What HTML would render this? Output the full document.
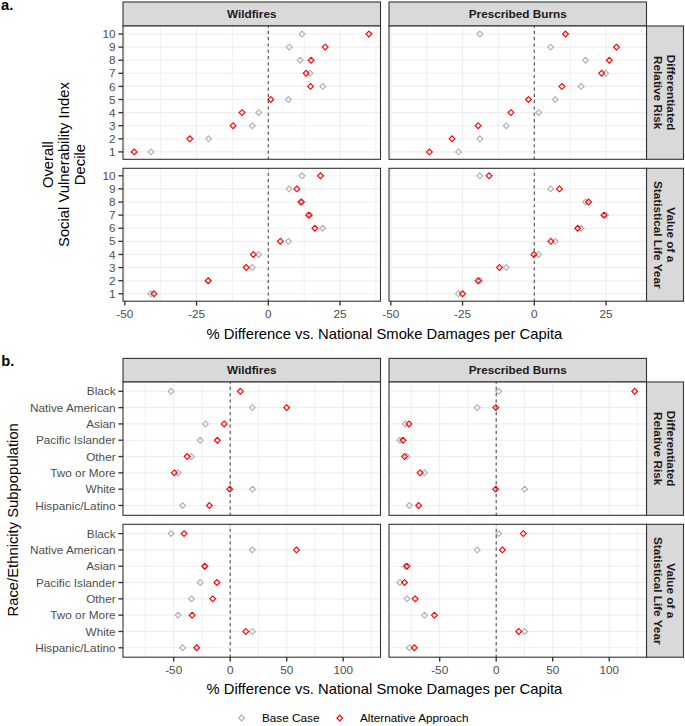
<!DOCTYPE html>
<html><head><meta charset="utf-8"><style>
html,body{margin:0;padding:0;background:#fff;}
svg{display:block;font-family:"Liberation Sans", sans-serif;}
</style></head><body>
<svg width="685" height="726" viewBox="0 0 685 726">
<rect width="685" height="726" fill="#fff"/>
<text x="1.00" y="9.90" font-size="14.7" text-anchor="start" font-weight="bold" fill="#000">a.</text>
<rect x="123.0" y="2.0" width="257.5" height="24.0" fill="#D9D9D9" stroke="#333333" stroke-width="1.1"/>
<text x="251.75" y="18.00" font-size="11.76" text-anchor="middle" font-weight="bold" fill="#1A1A1A">Wildfires</text>
<rect x="389.0" y="2.0" width="257.5" height="24.0" fill="#D9D9D9" stroke="#333333" stroke-width="1.1"/>
<text x="517.75" y="18.00" font-size="11.76" text-anchor="middle" font-weight="bold" fill="#1A1A1A">Prescribed Burns</text>
<rect x="646.5" y="26.0" width="37.0" height="133.3" fill="#D9D9D9" stroke="#333333" stroke-width="1.1"/>
<text x="667.20" y="92.65" font-size="11.76" text-anchor="middle" font-weight="bold" fill="#1A1A1A" transform="rotate(90 667.20 92.65)">Differentiated</text>
<text x="654.30" y="92.65" font-size="11.76" text-anchor="middle" font-weight="bold" fill="#1A1A1A" transform="rotate(90 654.30 92.65)">Relative Risk</text>
<rect x="123.0" y="26.0" width="257.5" height="133.3" fill="#FFFFFF"/>
<line x1="160.68" y1="26.0" x2="160.68" y2="159.3" stroke="#EEEEEE" stroke-width="0.9"/>
<line x1="232.43" y1="26.0" x2="232.43" y2="159.3" stroke="#EEEEEE" stroke-width="0.9"/>
<line x1="304.18" y1="26.0" x2="304.18" y2="159.3" stroke="#EEEEEE" stroke-width="0.9"/>
<line x1="375.93" y1="26.0" x2="375.93" y2="159.3" stroke="#EEEEEE" stroke-width="0.9"/>
<line x1="124.80" y1="26.0" x2="124.80" y2="159.3" stroke="#EEEEEE" stroke-width="1.1"/>
<line x1="196.55" y1="26.0" x2="196.55" y2="159.3" stroke="#EEEEEE" stroke-width="1.1"/>
<line x1="268.30" y1="26.0" x2="268.30" y2="159.3" stroke="#EEEEEE" stroke-width="1.1"/>
<line x1="340.05" y1="26.0" x2="340.05" y2="159.3" stroke="#EEEEEE" stroke-width="1.1"/>
<line x1="123.0" y1="34.00" x2="380.5" y2="34.00" stroke="#EEEEEE" stroke-width="1.1"/>
<line x1="123.0" y1="47.10" x2="380.5" y2="47.10" stroke="#EEEEEE" stroke-width="1.1"/>
<line x1="123.0" y1="60.20" x2="380.5" y2="60.20" stroke="#EEEEEE" stroke-width="1.1"/>
<line x1="123.0" y1="73.30" x2="380.5" y2="73.30" stroke="#EEEEEE" stroke-width="1.1"/>
<line x1="123.0" y1="86.40" x2="380.5" y2="86.40" stroke="#EEEEEE" stroke-width="1.1"/>
<line x1="123.0" y1="99.50" x2="380.5" y2="99.50" stroke="#EEEEEE" stroke-width="1.1"/>
<line x1="123.0" y1="112.60" x2="380.5" y2="112.60" stroke="#EEEEEE" stroke-width="1.1"/>
<line x1="123.0" y1="125.70" x2="380.5" y2="125.70" stroke="#EEEEEE" stroke-width="1.1"/>
<line x1="123.0" y1="138.80" x2="380.5" y2="138.80" stroke="#EEEEEE" stroke-width="1.1"/>
<line x1="123.0" y1="151.90" x2="380.5" y2="151.90" stroke="#EEEEEE" stroke-width="1.1"/>
<line x1="268.30" y1="159.3" x2="268.30" y2="26.0" stroke="#4D4D4D" stroke-width="1.1" stroke-dasharray="3.15 3.15" stroke-dashoffset="0.65"/>
<path d="M302.00 31.10L304.90 34.00L302.00 36.90L299.10 34.00Z" fill="none" stroke="#B0B0B0" stroke-width="1.15" stroke-linejoin="miter"/>
<path d="M289.10 44.20L292.00 47.10L289.10 50.00L286.20 47.10Z" fill="none" stroke="#B0B0B0" stroke-width="1.15" stroke-linejoin="miter"/>
<path d="M300.30 57.30L303.20 60.20L300.30 63.10L297.40 60.20Z" fill="none" stroke="#B0B0B0" stroke-width="1.15" stroke-linejoin="miter"/>
<path d="M310.10 70.40L313.00 73.30L310.10 76.20L307.20 73.30Z" fill="none" stroke="#B0B0B0" stroke-width="1.15" stroke-linejoin="miter"/>
<path d="M322.70 83.50L325.60 86.40L322.70 89.30L319.80 86.40Z" fill="none" stroke="#B0B0B0" stroke-width="1.15" stroke-linejoin="miter"/>
<path d="M288.40 96.60L291.30 99.50L288.40 102.40L285.50 99.50Z" fill="none" stroke="#B0B0B0" stroke-width="1.15" stroke-linejoin="miter"/>
<path d="M258.70 109.70L261.60 112.60L258.70 115.50L255.80 112.60Z" fill="none" stroke="#B0B0B0" stroke-width="1.15" stroke-linejoin="miter"/>
<path d="M252.30 122.80L255.20 125.70L252.30 128.60L249.40 125.70Z" fill="none" stroke="#B0B0B0" stroke-width="1.15" stroke-linejoin="miter"/>
<path d="M208.60 135.90L211.50 138.80L208.60 141.70L205.70 138.80Z" fill="none" stroke="#B0B0B0" stroke-width="1.15" stroke-linejoin="miter"/>
<path d="M151.00 149.00L153.90 151.90L151.00 154.80L148.10 151.90Z" fill="none" stroke="#B0B0B0" stroke-width="1.15" stroke-linejoin="miter"/>
<path d="M368.90 31.10L371.80 34.00L368.90 36.90L366.00 34.00Z" fill="none" stroke="#FF0000" stroke-width="1.15" stroke-linejoin="miter"/>
<path d="M325.20 44.20L328.10 47.10L325.20 50.00L322.30 47.10Z" fill="none" stroke="#FF0000" stroke-width="1.15" stroke-linejoin="miter"/>
<path d="M311.10 57.30L314.00 60.20L311.10 63.10L308.20 60.20Z" fill="none" stroke="#FF0000" stroke-width="1.15" stroke-linejoin="miter"/>
<path d="M306.10 70.40L309.00 73.30L306.10 76.20L303.20 73.30Z" fill="none" stroke="#FF0000" stroke-width="1.15" stroke-linejoin="miter"/>
<path d="M310.50 83.50L313.40 86.40L310.50 89.30L307.60 86.40Z" fill="none" stroke="#FF0000" stroke-width="1.15" stroke-linejoin="miter"/>
<path d="M270.80 96.60L273.70 99.50L270.80 102.40L267.90 99.50Z" fill="none" stroke="#FF0000" stroke-width="1.15" stroke-linejoin="miter"/>
<path d="M242.00 109.70L244.90 112.60L242.00 115.50L239.10 112.60Z" fill="none" stroke="#FF0000" stroke-width="1.15" stroke-linejoin="miter"/>
<path d="M233.10 122.80L236.00 125.70L233.10 128.60L230.20 125.70Z" fill="none" stroke="#FF0000" stroke-width="1.15" stroke-linejoin="miter"/>
<path d="M189.80 135.90L192.70 138.80L189.80 141.70L186.90 138.80Z" fill="none" stroke="#FF0000" stroke-width="1.15" stroke-linejoin="miter"/>
<path d="M134.10 149.00L137.00 151.90L134.10 154.80L131.20 151.90Z" fill="none" stroke="#FF0000" stroke-width="1.15" stroke-linejoin="miter"/>
<rect x="123.0" y="26.0" width="257.5" height="133.3" fill="none" stroke="#333333" stroke-width="1.1"/>
<rect x="389.0" y="26.0" width="257.5" height="133.3" fill="#FFFFFF"/>
<line x1="426.68" y1="26.0" x2="426.68" y2="159.3" stroke="#EEEEEE" stroke-width="0.9"/>
<line x1="498.43" y1="26.0" x2="498.43" y2="159.3" stroke="#EEEEEE" stroke-width="0.9"/>
<line x1="570.17" y1="26.0" x2="570.17" y2="159.3" stroke="#EEEEEE" stroke-width="0.9"/>
<line x1="641.92" y1="26.0" x2="641.92" y2="159.3" stroke="#EEEEEE" stroke-width="0.9"/>
<line x1="390.80" y1="26.0" x2="390.80" y2="159.3" stroke="#EEEEEE" stroke-width="1.1"/>
<line x1="462.55" y1="26.0" x2="462.55" y2="159.3" stroke="#EEEEEE" stroke-width="1.1"/>
<line x1="534.30" y1="26.0" x2="534.30" y2="159.3" stroke="#EEEEEE" stroke-width="1.1"/>
<line x1="606.05" y1="26.0" x2="606.05" y2="159.3" stroke="#EEEEEE" stroke-width="1.1"/>
<line x1="389.0" y1="34.00" x2="646.5" y2="34.00" stroke="#EEEEEE" stroke-width="1.1"/>
<line x1="389.0" y1="47.10" x2="646.5" y2="47.10" stroke="#EEEEEE" stroke-width="1.1"/>
<line x1="389.0" y1="60.20" x2="646.5" y2="60.20" stroke="#EEEEEE" stroke-width="1.1"/>
<line x1="389.0" y1="73.30" x2="646.5" y2="73.30" stroke="#EEEEEE" stroke-width="1.1"/>
<line x1="389.0" y1="86.40" x2="646.5" y2="86.40" stroke="#EEEEEE" stroke-width="1.1"/>
<line x1="389.0" y1="99.50" x2="646.5" y2="99.50" stroke="#EEEEEE" stroke-width="1.1"/>
<line x1="389.0" y1="112.60" x2="646.5" y2="112.60" stroke="#EEEEEE" stroke-width="1.1"/>
<line x1="389.0" y1="125.70" x2="646.5" y2="125.70" stroke="#EEEEEE" stroke-width="1.1"/>
<line x1="389.0" y1="138.80" x2="646.5" y2="138.80" stroke="#EEEEEE" stroke-width="1.1"/>
<line x1="389.0" y1="151.90" x2="646.5" y2="151.90" stroke="#EEEEEE" stroke-width="1.1"/>
<line x1="534.30" y1="159.3" x2="534.30" y2="26.0" stroke="#4D4D4D" stroke-width="1.1" stroke-dasharray="3.15 3.15" stroke-dashoffset="0.65"/>
<path d="M479.90 31.10L482.80 34.00L479.90 36.90L477.00 34.00Z" fill="none" stroke="#B0B0B0" stroke-width="1.15" stroke-linejoin="miter"/>
<path d="M550.70 44.20L553.60 47.10L550.70 50.00L547.80 47.10Z" fill="none" stroke="#B0B0B0" stroke-width="1.15" stroke-linejoin="miter"/>
<path d="M585.60 57.30L588.50 60.20L585.60 63.10L582.70 60.20Z" fill="none" stroke="#B0B0B0" stroke-width="1.15" stroke-linejoin="miter"/>
<path d="M605.60 70.40L608.50 73.30L605.60 76.20L602.70 73.30Z" fill="none" stroke="#B0B0B0" stroke-width="1.15" stroke-linejoin="miter"/>
<path d="M581.10 83.50L584.00 86.40L581.10 89.30L578.20 86.40Z" fill="none" stroke="#B0B0B0" stroke-width="1.15" stroke-linejoin="miter"/>
<path d="M555.30 96.60L558.20 99.50L555.30 102.40L552.40 99.50Z" fill="none" stroke="#B0B0B0" stroke-width="1.15" stroke-linejoin="miter"/>
<path d="M538.70 109.70L541.60 112.60L538.70 115.50L535.80 112.60Z" fill="none" stroke="#B0B0B0" stroke-width="1.15" stroke-linejoin="miter"/>
<path d="M506.30 122.80L509.20 125.70L506.30 128.60L503.40 125.70Z" fill="none" stroke="#B0B0B0" stroke-width="1.15" stroke-linejoin="miter"/>
<path d="M479.90 135.90L482.80 138.80L479.90 141.70L477.00 138.80Z" fill="none" stroke="#B0B0B0" stroke-width="1.15" stroke-linejoin="miter"/>
<path d="M458.50 149.00L461.40 151.90L458.50 154.80L455.60 151.90Z" fill="none" stroke="#B0B0B0" stroke-width="1.15" stroke-linejoin="miter"/>
<path d="M565.50 31.10L568.40 34.00L565.50 36.90L562.60 34.00Z" fill="none" stroke="#FF0000" stroke-width="1.15" stroke-linejoin="miter"/>
<path d="M616.40 44.20L619.30 47.10L616.40 50.00L613.50 47.10Z" fill="none" stroke="#FF0000" stroke-width="1.15" stroke-linejoin="miter"/>
<path d="M609.30 57.30L612.20 60.20L609.30 63.10L606.40 60.20Z" fill="none" stroke="#FF0000" stroke-width="1.15" stroke-linejoin="miter"/>
<path d="M601.60 70.40L604.50 73.30L601.60 76.20L598.70 73.30Z" fill="none" stroke="#FF0000" stroke-width="1.15" stroke-linejoin="miter"/>
<path d="M561.90 83.50L564.80 86.40L561.90 89.30L559.00 86.40Z" fill="none" stroke="#FF0000" stroke-width="1.15" stroke-linejoin="miter"/>
<path d="M528.50 96.60L531.40 99.50L528.50 102.40L525.60 99.50Z" fill="none" stroke="#FF0000" stroke-width="1.15" stroke-linejoin="miter"/>
<path d="M510.90 109.70L513.80 112.60L510.90 115.50L508.00 112.60Z" fill="none" stroke="#FF0000" stroke-width="1.15" stroke-linejoin="miter"/>
<path d="M478.10 122.80L481.00 125.70L478.10 128.60L475.20 125.70Z" fill="none" stroke="#FF0000" stroke-width="1.15" stroke-linejoin="miter"/>
<path d="M452.10 135.90L455.00 138.80L452.10 141.70L449.20 138.80Z" fill="none" stroke="#FF0000" stroke-width="1.15" stroke-linejoin="miter"/>
<path d="M429.40 149.00L432.30 151.90L429.40 154.80L426.50 151.90Z" fill="none" stroke="#FF0000" stroke-width="1.15" stroke-linejoin="miter"/>
<rect x="389.0" y="26.0" width="257.5" height="133.3" fill="none" stroke="#333333" stroke-width="1.1"/>
<line x1="118.4" y1="34.00" x2="123" y2="34.00" stroke="#333333" stroke-width="1.35"/>
<text x="115.60" y="38.10" font-size="11.76" text-anchor="end" font-weight="normal" fill="#4D4D4D">10</text>
<line x1="118.4" y1="47.10" x2="123" y2="47.10" stroke="#333333" stroke-width="1.35"/>
<text x="115.60" y="51.20" font-size="11.76" text-anchor="end" font-weight="normal" fill="#4D4D4D">9</text>
<line x1="118.4" y1="60.20" x2="123" y2="60.20" stroke="#333333" stroke-width="1.35"/>
<text x="115.60" y="64.30" font-size="11.76" text-anchor="end" font-weight="normal" fill="#4D4D4D">8</text>
<line x1="118.4" y1="73.30" x2="123" y2="73.30" stroke="#333333" stroke-width="1.35"/>
<text x="115.60" y="77.40" font-size="11.76" text-anchor="end" font-weight="normal" fill="#4D4D4D">7</text>
<line x1="118.4" y1="86.40" x2="123" y2="86.40" stroke="#333333" stroke-width="1.35"/>
<text x="115.60" y="90.50" font-size="11.76" text-anchor="end" font-weight="normal" fill="#4D4D4D">6</text>
<line x1="118.4" y1="99.50" x2="123" y2="99.50" stroke="#333333" stroke-width="1.35"/>
<text x="115.60" y="103.60" font-size="11.76" text-anchor="end" font-weight="normal" fill="#4D4D4D">5</text>
<line x1="118.4" y1="112.60" x2="123" y2="112.60" stroke="#333333" stroke-width="1.35"/>
<text x="115.60" y="116.70" font-size="11.76" text-anchor="end" font-weight="normal" fill="#4D4D4D">4</text>
<line x1="118.4" y1="125.70" x2="123" y2="125.70" stroke="#333333" stroke-width="1.35"/>
<text x="115.60" y="129.80" font-size="11.76" text-anchor="end" font-weight="normal" fill="#4D4D4D">3</text>
<line x1="118.4" y1="138.80" x2="123" y2="138.80" stroke="#333333" stroke-width="1.35"/>
<text x="115.60" y="142.90" font-size="11.76" text-anchor="end" font-weight="normal" fill="#4D4D4D">2</text>
<line x1="118.4" y1="151.90" x2="123" y2="151.90" stroke="#333333" stroke-width="1.35"/>
<text x="115.60" y="156.00" font-size="11.76" text-anchor="end" font-weight="normal" fill="#4D4D4D">1</text>
<rect x="646.5" y="168.3" width="37.0" height="132.89999999999998" fill="#D9D9D9" stroke="#333333" stroke-width="1.1"/>
<text x="667.20" y="234.75" font-size="11.76" text-anchor="middle" font-weight="bold" fill="#1A1A1A" transform="rotate(90 667.20 234.75)">Value of a</text>
<text x="654.30" y="234.75" font-size="11.76" text-anchor="middle" font-weight="bold" fill="#1A1A1A" transform="rotate(90 654.30 234.75)">Statistical Life Year</text>
<rect x="123.0" y="168.3" width="257.5" height="132.89999999999998" fill="#FFFFFF"/>
<line x1="160.68" y1="168.3" x2="160.68" y2="301.2" stroke="#EEEEEE" stroke-width="0.9"/>
<line x1="232.43" y1="168.3" x2="232.43" y2="301.2" stroke="#EEEEEE" stroke-width="0.9"/>
<line x1="304.18" y1="168.3" x2="304.18" y2="301.2" stroke="#EEEEEE" stroke-width="0.9"/>
<line x1="375.93" y1="168.3" x2="375.93" y2="301.2" stroke="#EEEEEE" stroke-width="0.9"/>
<line x1="124.80" y1="168.3" x2="124.80" y2="301.2" stroke="#EEEEEE" stroke-width="1.1"/>
<line x1="196.55" y1="168.3" x2="196.55" y2="301.2" stroke="#EEEEEE" stroke-width="1.1"/>
<line x1="268.30" y1="168.3" x2="268.30" y2="301.2" stroke="#EEEEEE" stroke-width="1.1"/>
<line x1="340.05" y1="168.3" x2="340.05" y2="301.2" stroke="#EEEEEE" stroke-width="1.1"/>
<line x1="123.0" y1="175.80" x2="380.5" y2="175.80" stroke="#EEEEEE" stroke-width="1.1"/>
<line x1="123.0" y1="188.91" x2="380.5" y2="188.91" stroke="#EEEEEE" stroke-width="1.1"/>
<line x1="123.0" y1="202.02" x2="380.5" y2="202.02" stroke="#EEEEEE" stroke-width="1.1"/>
<line x1="123.0" y1="215.13" x2="380.5" y2="215.13" stroke="#EEEEEE" stroke-width="1.1"/>
<line x1="123.0" y1="228.24" x2="380.5" y2="228.24" stroke="#EEEEEE" stroke-width="1.1"/>
<line x1="123.0" y1="241.35" x2="380.5" y2="241.35" stroke="#EEEEEE" stroke-width="1.1"/>
<line x1="123.0" y1="254.46" x2="380.5" y2="254.46" stroke="#EEEEEE" stroke-width="1.1"/>
<line x1="123.0" y1="267.57" x2="380.5" y2="267.57" stroke="#EEEEEE" stroke-width="1.1"/>
<line x1="123.0" y1="280.68" x2="380.5" y2="280.68" stroke="#EEEEEE" stroke-width="1.1"/>
<line x1="123.0" y1="293.79" x2="380.5" y2="293.79" stroke="#EEEEEE" stroke-width="1.1"/>
<line x1="268.30" y1="301.2" x2="268.30" y2="168.3" stroke="#4D4D4D" stroke-width="1.1" stroke-dasharray="3.15 3.15" stroke-dashoffset="0.65"/>
<path d="M302.00 172.90L304.90 175.80L302.00 178.70L299.10 175.80Z" fill="none" stroke="#B0B0B0" stroke-width="1.15" stroke-linejoin="miter"/>
<path d="M289.10 186.01L292.00 188.91L289.10 191.81L286.20 188.91Z" fill="none" stroke="#B0B0B0" stroke-width="1.15" stroke-linejoin="miter"/>
<path d="M300.30 199.12L303.20 202.02L300.30 204.92L297.40 202.02Z" fill="none" stroke="#B0B0B0" stroke-width="1.15" stroke-linejoin="miter"/>
<path d="M310.10 212.23L313.00 215.13L310.10 218.03L307.20 215.13Z" fill="none" stroke="#B0B0B0" stroke-width="1.15" stroke-linejoin="miter"/>
<path d="M322.70 225.34L325.60 228.24L322.70 231.14L319.80 228.24Z" fill="none" stroke="#B0B0B0" stroke-width="1.15" stroke-linejoin="miter"/>
<path d="M288.40 238.45L291.30 241.35L288.40 244.25L285.50 241.35Z" fill="none" stroke="#B0B0B0" stroke-width="1.15" stroke-linejoin="miter"/>
<path d="M258.70 251.56L261.60 254.46L258.70 257.36L255.80 254.46Z" fill="none" stroke="#B0B0B0" stroke-width="1.15" stroke-linejoin="miter"/>
<path d="M252.30 264.67L255.20 267.57L252.30 270.47L249.40 267.57Z" fill="none" stroke="#B0B0B0" stroke-width="1.15" stroke-linejoin="miter"/>
<path d="M208.60 277.78L211.50 280.68L208.60 283.58L205.70 280.68Z" fill="none" stroke="#B0B0B0" stroke-width="1.15" stroke-linejoin="miter"/>
<path d="M151.00 290.89L153.90 293.79L151.00 296.69L148.10 293.79Z" fill="none" stroke="#B0B0B0" stroke-width="1.15" stroke-linejoin="miter"/>
<path d="M320.50 172.90L323.40 175.80L320.50 178.70L317.60 175.80Z" fill="none" stroke="#FF0000" stroke-width="1.15" stroke-linejoin="miter"/>
<path d="M296.80 186.01L299.70 188.91L296.80 191.81L293.90 188.91Z" fill="none" stroke="#FF0000" stroke-width="1.15" stroke-linejoin="miter"/>
<path d="M301.50 199.12L304.40 202.02L301.50 204.92L298.60 202.02Z" fill="none" stroke="#FF0000" stroke-width="1.15" stroke-linejoin="miter"/>
<path d="M308.60 212.23L311.50 215.13L308.60 218.03L305.70 215.13Z" fill="none" stroke="#FF0000" stroke-width="1.15" stroke-linejoin="miter"/>
<path d="M314.90 225.34L317.80 228.24L314.90 231.14L312.00 228.24Z" fill="none" stroke="#FF0000" stroke-width="1.15" stroke-linejoin="miter"/>
<path d="M280.30 238.45L283.20 241.35L280.30 244.25L277.40 241.35Z" fill="none" stroke="#FF0000" stroke-width="1.15" stroke-linejoin="miter"/>
<path d="M253.30 251.56L256.20 254.46L253.30 257.36L250.40 254.46Z" fill="none" stroke="#FF0000" stroke-width="1.15" stroke-linejoin="miter"/>
<path d="M246.20 264.67L249.10 267.57L246.20 270.47L243.30 267.57Z" fill="none" stroke="#FF0000" stroke-width="1.15" stroke-linejoin="miter"/>
<path d="M208.10 277.78L211.00 280.68L208.10 283.58L205.20 280.68Z" fill="none" stroke="#FF0000" stroke-width="1.15" stroke-linejoin="miter"/>
<path d="M153.90 290.89L156.80 293.79L153.90 296.69L151.00 293.79Z" fill="none" stroke="#FF0000" stroke-width="1.15" stroke-linejoin="miter"/>
<rect x="123.0" y="168.3" width="257.5" height="132.89999999999998" fill="none" stroke="#333333" stroke-width="1.1"/>
<rect x="389.0" y="168.3" width="257.5" height="132.89999999999998" fill="#FFFFFF"/>
<line x1="426.68" y1="168.3" x2="426.68" y2="301.2" stroke="#EEEEEE" stroke-width="0.9"/>
<line x1="498.43" y1="168.3" x2="498.43" y2="301.2" stroke="#EEEEEE" stroke-width="0.9"/>
<line x1="570.17" y1="168.3" x2="570.17" y2="301.2" stroke="#EEEEEE" stroke-width="0.9"/>
<line x1="641.92" y1="168.3" x2="641.92" y2="301.2" stroke="#EEEEEE" stroke-width="0.9"/>
<line x1="390.80" y1="168.3" x2="390.80" y2="301.2" stroke="#EEEEEE" stroke-width="1.1"/>
<line x1="462.55" y1="168.3" x2="462.55" y2="301.2" stroke="#EEEEEE" stroke-width="1.1"/>
<line x1="534.30" y1="168.3" x2="534.30" y2="301.2" stroke="#EEEEEE" stroke-width="1.1"/>
<line x1="606.05" y1="168.3" x2="606.05" y2="301.2" stroke="#EEEEEE" stroke-width="1.1"/>
<line x1="389.0" y1="175.80" x2="646.5" y2="175.80" stroke="#EEEEEE" stroke-width="1.1"/>
<line x1="389.0" y1="188.91" x2="646.5" y2="188.91" stroke="#EEEEEE" stroke-width="1.1"/>
<line x1="389.0" y1="202.02" x2="646.5" y2="202.02" stroke="#EEEEEE" stroke-width="1.1"/>
<line x1="389.0" y1="215.13" x2="646.5" y2="215.13" stroke="#EEEEEE" stroke-width="1.1"/>
<line x1="389.0" y1="228.24" x2="646.5" y2="228.24" stroke="#EEEEEE" stroke-width="1.1"/>
<line x1="389.0" y1="241.35" x2="646.5" y2="241.35" stroke="#EEEEEE" stroke-width="1.1"/>
<line x1="389.0" y1="254.46" x2="646.5" y2="254.46" stroke="#EEEEEE" stroke-width="1.1"/>
<line x1="389.0" y1="267.57" x2="646.5" y2="267.57" stroke="#EEEEEE" stroke-width="1.1"/>
<line x1="389.0" y1="280.68" x2="646.5" y2="280.68" stroke="#EEEEEE" stroke-width="1.1"/>
<line x1="389.0" y1="293.79" x2="646.5" y2="293.79" stroke="#EEEEEE" stroke-width="1.1"/>
<line x1="534.30" y1="301.2" x2="534.30" y2="168.3" stroke="#4D4D4D" stroke-width="1.1" stroke-dasharray="3.15 3.15" stroke-dashoffset="0.65"/>
<path d="M479.90 172.90L482.80 175.80L479.90 178.70L477.00 175.80Z" fill="none" stroke="#B0B0B0" stroke-width="1.15" stroke-linejoin="miter"/>
<path d="M550.70 186.01L553.60 188.91L550.70 191.81L547.80 188.91Z" fill="none" stroke="#B0B0B0" stroke-width="1.15" stroke-linejoin="miter"/>
<path d="M585.60 199.12L588.50 202.02L585.60 204.92L582.70 202.02Z" fill="none" stroke="#B0B0B0" stroke-width="1.15" stroke-linejoin="miter"/>
<path d="M605.60 212.23L608.50 215.13L605.60 218.03L602.70 215.13Z" fill="none" stroke="#B0B0B0" stroke-width="1.15" stroke-linejoin="miter"/>
<path d="M581.10 225.34L584.00 228.24L581.10 231.14L578.20 228.24Z" fill="none" stroke="#B0B0B0" stroke-width="1.15" stroke-linejoin="miter"/>
<path d="M555.30 238.45L558.20 241.35L555.30 244.25L552.40 241.35Z" fill="none" stroke="#B0B0B0" stroke-width="1.15" stroke-linejoin="miter"/>
<path d="M538.70 251.56L541.60 254.46L538.70 257.36L535.80 254.46Z" fill="none" stroke="#B0B0B0" stroke-width="1.15" stroke-linejoin="miter"/>
<path d="M506.30 264.67L509.20 267.57L506.30 270.47L503.40 267.57Z" fill="none" stroke="#B0B0B0" stroke-width="1.15" stroke-linejoin="miter"/>
<path d="M479.90 277.78L482.80 280.68L479.90 283.58L477.00 280.68Z" fill="none" stroke="#B0B0B0" stroke-width="1.15" stroke-linejoin="miter"/>
<path d="M458.50 290.89L461.40 293.79L458.50 296.69L455.60 293.79Z" fill="none" stroke="#B0B0B0" stroke-width="1.15" stroke-linejoin="miter"/>
<path d="M489.10 172.90L492.00 175.80L489.10 178.70L486.20 175.80Z" fill="none" stroke="#FF0000" stroke-width="1.15" stroke-linejoin="miter"/>
<path d="M559.40 186.01L562.30 188.91L559.40 191.81L556.50 188.91Z" fill="none" stroke="#FF0000" stroke-width="1.15" stroke-linejoin="miter"/>
<path d="M588.50 199.12L591.40 202.02L588.50 204.92L585.60 202.02Z" fill="none" stroke="#FF0000" stroke-width="1.15" stroke-linejoin="miter"/>
<path d="M603.90 212.23L606.80 215.13L603.90 218.03L601.00 215.13Z" fill="none" stroke="#FF0000" stroke-width="1.15" stroke-linejoin="miter"/>
<path d="M577.70 225.34L580.60 228.24L577.70 231.14L574.80 228.24Z" fill="none" stroke="#FF0000" stroke-width="1.15" stroke-linejoin="miter"/>
<path d="M550.90 238.45L553.80 241.35L550.90 244.25L548.00 241.35Z" fill="none" stroke="#FF0000" stroke-width="1.15" stroke-linejoin="miter"/>
<path d="M533.90 251.56L536.80 254.46L533.90 257.36L531.00 254.46Z" fill="none" stroke="#FF0000" stroke-width="1.15" stroke-linejoin="miter"/>
<path d="M499.50 264.67L502.40 267.57L499.50 270.47L496.60 267.57Z" fill="none" stroke="#FF0000" stroke-width="1.15" stroke-linejoin="miter"/>
<path d="M478.10 277.78L481.00 280.68L478.10 283.58L475.20 280.68Z" fill="none" stroke="#FF0000" stroke-width="1.15" stroke-linejoin="miter"/>
<path d="M462.50 290.89L465.40 293.79L462.50 296.69L459.60 293.79Z" fill="none" stroke="#FF0000" stroke-width="1.15" stroke-linejoin="miter"/>
<rect x="389.0" y="168.3" width="257.5" height="132.89999999999998" fill="none" stroke="#333333" stroke-width="1.1"/>
<line x1="118.4" y1="175.80" x2="123" y2="175.80" stroke="#333333" stroke-width="1.35"/>
<text x="115.60" y="179.90" font-size="11.76" text-anchor="end" font-weight="normal" fill="#4D4D4D">10</text>
<line x1="118.4" y1="188.91" x2="123" y2="188.91" stroke="#333333" stroke-width="1.35"/>
<text x="115.60" y="193.01" font-size="11.76" text-anchor="end" font-weight="normal" fill="#4D4D4D">9</text>
<line x1="118.4" y1="202.02" x2="123" y2="202.02" stroke="#333333" stroke-width="1.35"/>
<text x="115.60" y="206.12" font-size="11.76" text-anchor="end" font-weight="normal" fill="#4D4D4D">8</text>
<line x1="118.4" y1="215.13" x2="123" y2="215.13" stroke="#333333" stroke-width="1.35"/>
<text x="115.60" y="219.23" font-size="11.76" text-anchor="end" font-weight="normal" fill="#4D4D4D">7</text>
<line x1="118.4" y1="228.24" x2="123" y2="228.24" stroke="#333333" stroke-width="1.35"/>
<text x="115.60" y="232.34" font-size="11.76" text-anchor="end" font-weight="normal" fill="#4D4D4D">6</text>
<line x1="118.4" y1="241.35" x2="123" y2="241.35" stroke="#333333" stroke-width="1.35"/>
<text x="115.60" y="245.45" font-size="11.76" text-anchor="end" font-weight="normal" fill="#4D4D4D">5</text>
<line x1="118.4" y1="254.46" x2="123" y2="254.46" stroke="#333333" stroke-width="1.35"/>
<text x="115.60" y="258.56" font-size="11.76" text-anchor="end" font-weight="normal" fill="#4D4D4D">4</text>
<line x1="118.4" y1="267.57" x2="123" y2="267.57" stroke="#333333" stroke-width="1.35"/>
<text x="115.60" y="271.67" font-size="11.76" text-anchor="end" font-weight="normal" fill="#4D4D4D">3</text>
<line x1="118.4" y1="280.68" x2="123" y2="280.68" stroke="#333333" stroke-width="1.35"/>
<text x="115.60" y="284.78" font-size="11.76" text-anchor="end" font-weight="normal" fill="#4D4D4D">2</text>
<line x1="118.4" y1="293.79" x2="123" y2="293.79" stroke="#333333" stroke-width="1.35"/>
<text x="115.60" y="297.89" font-size="11.76" text-anchor="end" font-weight="normal" fill="#4D4D4D">1</text>
<line x1="124.80" y1="301.2" x2="124.80" y2="305.60" stroke="#333333" stroke-width="1.35"/>
<text x="124.80" y="317.70" font-size="11.76" text-anchor="middle" font-weight="normal" fill="#4D4D4D">-50</text>
<line x1="196.55" y1="301.2" x2="196.55" y2="305.60" stroke="#333333" stroke-width="1.35"/>
<text x="196.55" y="317.70" font-size="11.76" text-anchor="middle" font-weight="normal" fill="#4D4D4D">-25</text>
<line x1="268.30" y1="301.2" x2="268.30" y2="305.60" stroke="#333333" stroke-width="1.35"/>
<text x="268.30" y="317.70" font-size="11.76" text-anchor="middle" font-weight="normal" fill="#4D4D4D">0</text>
<line x1="340.05" y1="301.2" x2="340.05" y2="305.60" stroke="#333333" stroke-width="1.35"/>
<text x="340.05" y="317.70" font-size="11.76" text-anchor="middle" font-weight="normal" fill="#4D4D4D">25</text>
<line x1="390.80" y1="301.2" x2="390.80" y2="305.60" stroke="#333333" stroke-width="1.35"/>
<text x="390.80" y="317.70" font-size="11.76" text-anchor="middle" font-weight="normal" fill="#4D4D4D">-50</text>
<line x1="462.55" y1="301.2" x2="462.55" y2="305.60" stroke="#333333" stroke-width="1.35"/>
<text x="462.55" y="317.70" font-size="11.76" text-anchor="middle" font-weight="normal" fill="#4D4D4D">-25</text>
<line x1="534.30" y1="301.2" x2="534.30" y2="305.60" stroke="#333333" stroke-width="1.35"/>
<text x="534.30" y="317.70" font-size="11.76" text-anchor="middle" font-weight="normal" fill="#4D4D4D">0</text>
<line x1="606.05" y1="301.2" x2="606.05" y2="305.60" stroke="#333333" stroke-width="1.35"/>
<text x="606.05" y="317.70" font-size="11.76" text-anchor="middle" font-weight="normal" fill="#4D4D4D">25</text>
<text x="384.40" y="338.80" font-size="14.8" text-anchor="middle" font-weight="normal" fill="#000">% Difference vs. National Smoke Damages per Capita</text>
<text x="53.40" y="164.60" font-size="14.8" text-anchor="middle" font-weight="normal" fill="#000" transform="rotate(-90 53.40 164.60)">Overall</text>
<text x="69.30" y="164.60" font-size="14.8" text-anchor="middle" font-weight="normal" fill="#000" transform="rotate(-90 69.30 164.60)">Social Vulnerability Index</text>
<text x="85.30" y="164.60" font-size="14.8" text-anchor="middle" font-weight="normal" fill="#000" transform="rotate(-90 85.30 164.60)">Decile</text>
<text x="1.30" y="365.50" font-size="14.7" text-anchor="start" font-weight="bold" fill="#000">b.</text>
<rect x="123.0" y="358.4" width="257.5" height="23.600000000000023" fill="#D9D9D9" stroke="#333333" stroke-width="1.1"/>
<text x="251.75" y="374.40" font-size="11.76" text-anchor="middle" font-weight="bold" fill="#1A1A1A">Wildfires</text>
<rect x="389.0" y="358.4" width="257.5" height="23.600000000000023" fill="#D9D9D9" stroke="#333333" stroke-width="1.1"/>
<text x="517.75" y="374.40" font-size="11.76" text-anchor="middle" font-weight="bold" fill="#1A1A1A">Prescribed Burns</text>
<rect x="646.5" y="382.0" width="37.0" height="133.29999999999995" fill="#D9D9D9" stroke="#333333" stroke-width="1.1"/>
<text x="667.20" y="448.65" font-size="11.76" text-anchor="middle" font-weight="bold" fill="#1A1A1A" transform="rotate(90 667.20 448.65)">Differentiated</text>
<text x="654.30" y="448.65" font-size="11.76" text-anchor="middle" font-weight="bold" fill="#1A1A1A" transform="rotate(90 654.30 448.65)">Relative Risk</text>
<rect x="123.0" y="382.0" width="257.5" height="133.29999999999995" fill="#FFFFFF"/>
<line x1="145.45" y1="382.0" x2="145.45" y2="515.3" stroke="#EEEEEE" stroke-width="0.9"/>
<line x1="201.95" y1="382.0" x2="201.95" y2="515.3" stroke="#EEEEEE" stroke-width="0.9"/>
<line x1="258.45" y1="382.0" x2="258.45" y2="515.3" stroke="#EEEEEE" stroke-width="0.9"/>
<line x1="314.95" y1="382.0" x2="314.95" y2="515.3" stroke="#EEEEEE" stroke-width="0.9"/>
<line x1="371.45" y1="382.0" x2="371.45" y2="515.3" stroke="#EEEEEE" stroke-width="0.9"/>
<line x1="173.70" y1="382.0" x2="173.70" y2="515.3" stroke="#EEEEEE" stroke-width="1.1"/>
<line x1="230.20" y1="382.0" x2="230.20" y2="515.3" stroke="#EEEEEE" stroke-width="1.1"/>
<line x1="286.70" y1="382.0" x2="286.70" y2="515.3" stroke="#EEEEEE" stroke-width="1.1"/>
<line x1="343.20" y1="382.0" x2="343.20" y2="515.3" stroke="#EEEEEE" stroke-width="1.1"/>
<line x1="123.0" y1="391.30" x2="380.5" y2="391.30" stroke="#EEEEEE" stroke-width="1.1"/>
<line x1="123.0" y1="407.61" x2="380.5" y2="407.61" stroke="#EEEEEE" stroke-width="1.1"/>
<line x1="123.0" y1="423.92" x2="380.5" y2="423.92" stroke="#EEEEEE" stroke-width="1.1"/>
<line x1="123.0" y1="440.23" x2="380.5" y2="440.23" stroke="#EEEEEE" stroke-width="1.1"/>
<line x1="123.0" y1="456.54" x2="380.5" y2="456.54" stroke="#EEEEEE" stroke-width="1.1"/>
<line x1="123.0" y1="472.85" x2="380.5" y2="472.85" stroke="#EEEEEE" stroke-width="1.1"/>
<line x1="123.0" y1="489.16" x2="380.5" y2="489.16" stroke="#EEEEEE" stroke-width="1.1"/>
<line x1="123.0" y1="505.47" x2="380.5" y2="505.47" stroke="#EEEEEE" stroke-width="1.1"/>
<line x1="230.20" y1="515.3" x2="230.20" y2="382.0" stroke="#4D4D4D" stroke-width="1.1" stroke-dasharray="3.15 3.15" stroke-dashoffset="0.65"/>
<path d="M171.10 388.40L174.00 391.30L171.10 394.20L168.20 391.30Z" fill="none" stroke="#B0B0B0" stroke-width="1.15" stroke-linejoin="miter"/>
<path d="M252.30 404.71L255.20 407.61L252.30 410.51L249.40 407.61Z" fill="none" stroke="#B0B0B0" stroke-width="1.15" stroke-linejoin="miter"/>
<path d="M205.40 421.02L208.30 423.92L205.40 426.82L202.50 423.92Z" fill="none" stroke="#B0B0B0" stroke-width="1.15" stroke-linejoin="miter"/>
<path d="M200.20 437.33L203.10 440.23L200.20 443.13L197.30 440.23Z" fill="none" stroke="#B0B0B0" stroke-width="1.15" stroke-linejoin="miter"/>
<path d="M191.50 453.64L194.40 456.54L191.50 459.44L188.60 456.54Z" fill="none" stroke="#B0B0B0" stroke-width="1.15" stroke-linejoin="miter"/>
<path d="M178.00 469.95L180.90 472.85L178.00 475.75L175.10 472.85Z" fill="none" stroke="#B0B0B0" stroke-width="1.15" stroke-linejoin="miter"/>
<path d="M252.50 486.26L255.40 489.16L252.50 492.06L249.60 489.16Z" fill="none" stroke="#B0B0B0" stroke-width="1.15" stroke-linejoin="miter"/>
<path d="M182.60 502.57L185.50 505.47L182.60 508.37L179.70 505.47Z" fill="none" stroke="#B0B0B0" stroke-width="1.15" stroke-linejoin="miter"/>
<path d="M240.30 388.40L243.20 391.30L240.30 394.20L237.40 391.30Z" fill="none" stroke="#FF0000" stroke-width="1.15" stroke-linejoin="miter"/>
<path d="M286.60 404.71L289.50 407.61L286.60 410.51L283.70 407.61Z" fill="none" stroke="#FF0000" stroke-width="1.15" stroke-linejoin="miter"/>
<path d="M224.10 421.02L227.00 423.92L224.10 426.82L221.20 423.92Z" fill="none" stroke="#FF0000" stroke-width="1.15" stroke-linejoin="miter"/>
<path d="M217.30 437.33L220.20 440.23L217.30 443.13L214.40 440.23Z" fill="none" stroke="#FF0000" stroke-width="1.15" stroke-linejoin="miter"/>
<path d="M187.10 453.64L190.00 456.54L187.10 459.44L184.20 456.54Z" fill="none" stroke="#FF0000" stroke-width="1.15" stroke-linejoin="miter"/>
<path d="M174.30 469.95L177.20 472.85L174.30 475.75L171.40 472.85Z" fill="none" stroke="#FF0000" stroke-width="1.15" stroke-linejoin="miter"/>
<path d="M229.70 486.26L232.60 489.16L229.70 492.06L226.80 489.16Z" fill="none" stroke="#FF0000" stroke-width="1.15" stroke-linejoin="miter"/>
<path d="M209.40 502.57L212.30 505.47L209.40 508.37L206.50 505.47Z" fill="none" stroke="#FF0000" stroke-width="1.15" stroke-linejoin="miter"/>
<rect x="123.0" y="382.0" width="257.5" height="133.29999999999995" fill="none" stroke="#333333" stroke-width="1.1"/>
<rect x="389.0" y="382.0" width="257.5" height="133.29999999999995" fill="#FFFFFF"/>
<line x1="411.45" y1="382.0" x2="411.45" y2="515.3" stroke="#EEEEEE" stroke-width="0.9"/>
<line x1="467.95" y1="382.0" x2="467.95" y2="515.3" stroke="#EEEEEE" stroke-width="0.9"/>
<line x1="524.45" y1="382.0" x2="524.45" y2="515.3" stroke="#EEEEEE" stroke-width="0.9"/>
<line x1="580.95" y1="382.0" x2="580.95" y2="515.3" stroke="#EEEEEE" stroke-width="0.9"/>
<line x1="637.45" y1="382.0" x2="637.45" y2="515.3" stroke="#EEEEEE" stroke-width="0.9"/>
<line x1="439.70" y1="382.0" x2="439.70" y2="515.3" stroke="#EEEEEE" stroke-width="1.1"/>
<line x1="496.20" y1="382.0" x2="496.20" y2="515.3" stroke="#EEEEEE" stroke-width="1.1"/>
<line x1="552.70" y1="382.0" x2="552.70" y2="515.3" stroke="#EEEEEE" stroke-width="1.1"/>
<line x1="609.20" y1="382.0" x2="609.20" y2="515.3" stroke="#EEEEEE" stroke-width="1.1"/>
<line x1="389.0" y1="391.30" x2="646.5" y2="391.30" stroke="#EEEEEE" stroke-width="1.1"/>
<line x1="389.0" y1="407.61" x2="646.5" y2="407.61" stroke="#EEEEEE" stroke-width="1.1"/>
<line x1="389.0" y1="423.92" x2="646.5" y2="423.92" stroke="#EEEEEE" stroke-width="1.1"/>
<line x1="389.0" y1="440.23" x2="646.5" y2="440.23" stroke="#EEEEEE" stroke-width="1.1"/>
<line x1="389.0" y1="456.54" x2="646.5" y2="456.54" stroke="#EEEEEE" stroke-width="1.1"/>
<line x1="389.0" y1="472.85" x2="646.5" y2="472.85" stroke="#EEEEEE" stroke-width="1.1"/>
<line x1="389.0" y1="489.16" x2="646.5" y2="489.16" stroke="#EEEEEE" stroke-width="1.1"/>
<line x1="389.0" y1="505.47" x2="646.5" y2="505.47" stroke="#EEEEEE" stroke-width="1.1"/>
<line x1="496.20" y1="515.3" x2="496.20" y2="382.0" stroke="#4D4D4D" stroke-width="1.1" stroke-dasharray="3.15 3.15" stroke-dashoffset="0.65"/>
<path d="M498.70 388.40L501.60 391.30L498.70 394.20L495.80 391.30Z" fill="none" stroke="#B0B0B0" stroke-width="1.15" stroke-linejoin="miter"/>
<path d="M477.20 404.71L480.10 407.61L477.20 410.51L474.30 407.61Z" fill="none" stroke="#B0B0B0" stroke-width="1.15" stroke-linejoin="miter"/>
<path d="M405.30 421.02L408.20 423.92L405.30 426.82L402.40 423.92Z" fill="none" stroke="#B0B0B0" stroke-width="1.15" stroke-linejoin="miter"/>
<path d="M399.90 437.33L402.80 440.23L399.90 443.13L397.00 440.23Z" fill="none" stroke="#B0B0B0" stroke-width="1.15" stroke-linejoin="miter"/>
<path d="M407.00 453.64L409.90 456.54L407.00 459.44L404.10 456.54Z" fill="none" stroke="#B0B0B0" stroke-width="1.15" stroke-linejoin="miter"/>
<path d="M424.50 469.95L427.40 472.85L424.50 475.75L421.60 472.85Z" fill="none" stroke="#B0B0B0" stroke-width="1.15" stroke-linejoin="miter"/>
<path d="M524.70 486.26L527.60 489.16L524.70 492.06L521.80 489.16Z" fill="none" stroke="#B0B0B0" stroke-width="1.15" stroke-linejoin="miter"/>
<path d="M409.30 502.57L412.20 505.47L409.30 508.37L406.40 505.47Z" fill="none" stroke="#B0B0B0" stroke-width="1.15" stroke-linejoin="miter"/>
<path d="M634.70 388.40L637.60 391.30L634.70 394.20L631.80 391.30Z" fill="none" stroke="#FF0000" stroke-width="1.15" stroke-linejoin="miter"/>
<path d="M495.80 404.71L498.70 407.61L495.80 410.51L492.90 407.61Z" fill="none" stroke="#FF0000" stroke-width="1.15" stroke-linejoin="miter"/>
<path d="M408.90 421.02L411.80 423.92L408.90 426.82L406.00 423.92Z" fill="none" stroke="#FF0000" stroke-width="1.15" stroke-linejoin="miter"/>
<path d="M403.00 437.33L405.90 440.23L403.00 443.13L400.10 440.23Z" fill="none" stroke="#FF0000" stroke-width="1.15" stroke-linejoin="miter"/>
<path d="M404.50 453.64L407.40 456.54L404.50 459.44L401.60 456.54Z" fill="none" stroke="#FF0000" stroke-width="1.15" stroke-linejoin="miter"/>
<path d="M420.10 469.95L423.00 472.85L420.10 475.75L417.20 472.85Z" fill="none" stroke="#FF0000" stroke-width="1.15" stroke-linejoin="miter"/>
<path d="M495.70 486.26L498.60 489.16L495.70 492.06L492.80 489.16Z" fill="none" stroke="#FF0000" stroke-width="1.15" stroke-linejoin="miter"/>
<path d="M418.60 502.57L421.50 505.47L418.60 508.37L415.70 505.47Z" fill="none" stroke="#FF0000" stroke-width="1.15" stroke-linejoin="miter"/>
<rect x="389.0" y="382.0" width="257.5" height="133.29999999999995" fill="none" stroke="#333333" stroke-width="1.1"/>
<line x1="118.4" y1="391.30" x2="123" y2="391.30" stroke="#333333" stroke-width="1.35"/>
<text x="115.60" y="395.40" font-size="11.76" text-anchor="end" font-weight="normal" fill="#4D4D4D">Black</text>
<line x1="118.4" y1="407.61" x2="123" y2="407.61" stroke="#333333" stroke-width="1.35"/>
<text x="115.60" y="411.71" font-size="11.76" text-anchor="end" font-weight="normal" fill="#4D4D4D">Native American</text>
<line x1="118.4" y1="423.92" x2="123" y2="423.92" stroke="#333333" stroke-width="1.35"/>
<text x="115.60" y="428.02" font-size="11.76" text-anchor="end" font-weight="normal" fill="#4D4D4D">Asian</text>
<line x1="118.4" y1="440.23" x2="123" y2="440.23" stroke="#333333" stroke-width="1.35"/>
<text x="115.60" y="444.33" font-size="11.76" text-anchor="end" font-weight="normal" fill="#4D4D4D">Pacific Islander</text>
<line x1="118.4" y1="456.54" x2="123" y2="456.54" stroke="#333333" stroke-width="1.35"/>
<text x="115.60" y="460.64" font-size="11.76" text-anchor="end" font-weight="normal" fill="#4D4D4D">Other</text>
<line x1="118.4" y1="472.85" x2="123" y2="472.85" stroke="#333333" stroke-width="1.35"/>
<text x="115.60" y="476.95" font-size="11.76" text-anchor="end" font-weight="normal" fill="#4D4D4D">Two or More</text>
<line x1="118.4" y1="489.16" x2="123" y2="489.16" stroke="#333333" stroke-width="1.35"/>
<text x="115.60" y="493.26" font-size="11.76" text-anchor="end" font-weight="normal" fill="#4D4D4D">White</text>
<line x1="118.4" y1="505.47" x2="123" y2="505.47" stroke="#333333" stroke-width="1.35"/>
<text x="115.60" y="509.57" font-size="11.76" text-anchor="end" font-weight="normal" fill="#4D4D4D">Hispanic/Latino</text>
<rect x="646.5" y="524.3" width="37.0" height="132.9000000000001" fill="#D9D9D9" stroke="#333333" stroke-width="1.1"/>
<text x="667.20" y="590.75" font-size="11.76" text-anchor="middle" font-weight="bold" fill="#1A1A1A" transform="rotate(90 667.20 590.75)">Value of a</text>
<text x="654.30" y="590.75" font-size="11.76" text-anchor="middle" font-weight="bold" fill="#1A1A1A" transform="rotate(90 654.30 590.75)">Statistical Life Year</text>
<rect x="123.0" y="524.3" width="257.5" height="132.9000000000001" fill="#FFFFFF"/>
<line x1="145.45" y1="524.3" x2="145.45" y2="657.2" stroke="#EEEEEE" stroke-width="0.9"/>
<line x1="201.95" y1="524.3" x2="201.95" y2="657.2" stroke="#EEEEEE" stroke-width="0.9"/>
<line x1="258.45" y1="524.3" x2="258.45" y2="657.2" stroke="#EEEEEE" stroke-width="0.9"/>
<line x1="314.95" y1="524.3" x2="314.95" y2="657.2" stroke="#EEEEEE" stroke-width="0.9"/>
<line x1="371.45" y1="524.3" x2="371.45" y2="657.2" stroke="#EEEEEE" stroke-width="0.9"/>
<line x1="173.70" y1="524.3" x2="173.70" y2="657.2" stroke="#EEEEEE" stroke-width="1.1"/>
<line x1="230.20" y1="524.3" x2="230.20" y2="657.2" stroke="#EEEEEE" stroke-width="1.1"/>
<line x1="286.70" y1="524.3" x2="286.70" y2="657.2" stroke="#EEEEEE" stroke-width="1.1"/>
<line x1="343.20" y1="524.3" x2="343.20" y2="657.2" stroke="#EEEEEE" stroke-width="1.1"/>
<line x1="123.0" y1="533.60" x2="380.5" y2="533.60" stroke="#EEEEEE" stroke-width="1.1"/>
<line x1="123.0" y1="549.91" x2="380.5" y2="549.91" stroke="#EEEEEE" stroke-width="1.1"/>
<line x1="123.0" y1="566.22" x2="380.5" y2="566.22" stroke="#EEEEEE" stroke-width="1.1"/>
<line x1="123.0" y1="582.53" x2="380.5" y2="582.53" stroke="#EEEEEE" stroke-width="1.1"/>
<line x1="123.0" y1="598.84" x2="380.5" y2="598.84" stroke="#EEEEEE" stroke-width="1.1"/>
<line x1="123.0" y1="615.15" x2="380.5" y2="615.15" stroke="#EEEEEE" stroke-width="1.1"/>
<line x1="123.0" y1="631.46" x2="380.5" y2="631.46" stroke="#EEEEEE" stroke-width="1.1"/>
<line x1="123.0" y1="647.77" x2="380.5" y2="647.77" stroke="#EEEEEE" stroke-width="1.1"/>
<line x1="230.20" y1="657.2" x2="230.20" y2="524.3" stroke="#4D4D4D" stroke-width="1.1" stroke-dasharray="3.15 3.15" stroke-dashoffset="0.65"/>
<path d="M171.10 530.70L174.00 533.60L171.10 536.50L168.20 533.60Z" fill="none" stroke="#B0B0B0" stroke-width="1.15" stroke-linejoin="miter"/>
<path d="M252.30 547.01L255.20 549.91L252.30 552.81L249.40 549.91Z" fill="none" stroke="#B0B0B0" stroke-width="1.15" stroke-linejoin="miter"/>
<path d="M205.40 563.32L208.30 566.22L205.40 569.12L202.50 566.22Z" fill="none" stroke="#B0B0B0" stroke-width="1.15" stroke-linejoin="miter"/>
<path d="M200.20 579.63L203.10 582.53L200.20 585.43L197.30 582.53Z" fill="none" stroke="#B0B0B0" stroke-width="1.15" stroke-linejoin="miter"/>
<path d="M191.50 595.94L194.40 598.84L191.50 601.74L188.60 598.84Z" fill="none" stroke="#B0B0B0" stroke-width="1.15" stroke-linejoin="miter"/>
<path d="M178.00 612.25L180.90 615.15L178.00 618.05L175.10 615.15Z" fill="none" stroke="#B0B0B0" stroke-width="1.15" stroke-linejoin="miter"/>
<path d="M252.50 628.56L255.40 631.46L252.50 634.36L249.60 631.46Z" fill="none" stroke="#B0B0B0" stroke-width="1.15" stroke-linejoin="miter"/>
<path d="M182.60 644.87L185.50 647.77L182.60 650.67L179.70 647.77Z" fill="none" stroke="#B0B0B0" stroke-width="1.15" stroke-linejoin="miter"/>
<path d="M184.00 530.70L186.90 533.60L184.00 536.50L181.10 533.60Z" fill="none" stroke="#FF0000" stroke-width="1.15" stroke-linejoin="miter"/>
<path d="M296.40 547.01L299.30 549.91L296.40 552.81L293.50 549.91Z" fill="none" stroke="#FF0000" stroke-width="1.15" stroke-linejoin="miter"/>
<path d="M204.60 563.32L207.50 566.22L204.60 569.12L201.70 566.22Z" fill="none" stroke="#FF0000" stroke-width="1.15" stroke-linejoin="miter"/>
<path d="M216.90 579.63L219.80 582.53L216.90 585.43L214.00 582.53Z" fill="none" stroke="#FF0000" stroke-width="1.15" stroke-linejoin="miter"/>
<path d="M212.70 595.94L215.60 598.84L212.70 601.74L209.80 598.84Z" fill="none" stroke="#FF0000" stroke-width="1.15" stroke-linejoin="miter"/>
<path d="M192.10 612.25L195.00 615.15L192.10 618.05L189.20 615.15Z" fill="none" stroke="#FF0000" stroke-width="1.15" stroke-linejoin="miter"/>
<path d="M245.80 628.56L248.70 631.46L245.80 634.36L242.90 631.46Z" fill="none" stroke="#FF0000" stroke-width="1.15" stroke-linejoin="miter"/>
<path d="M196.70 644.87L199.60 647.77L196.70 650.67L193.80 647.77Z" fill="none" stroke="#FF0000" stroke-width="1.15" stroke-linejoin="miter"/>
<rect x="123.0" y="524.3" width="257.5" height="132.9000000000001" fill="none" stroke="#333333" stroke-width="1.1"/>
<rect x="389.0" y="524.3" width="257.5" height="132.9000000000001" fill="#FFFFFF"/>
<line x1="411.45" y1="524.3" x2="411.45" y2="657.2" stroke="#EEEEEE" stroke-width="0.9"/>
<line x1="467.95" y1="524.3" x2="467.95" y2="657.2" stroke="#EEEEEE" stroke-width="0.9"/>
<line x1="524.45" y1="524.3" x2="524.45" y2="657.2" stroke="#EEEEEE" stroke-width="0.9"/>
<line x1="580.95" y1="524.3" x2="580.95" y2="657.2" stroke="#EEEEEE" stroke-width="0.9"/>
<line x1="637.45" y1="524.3" x2="637.45" y2="657.2" stroke="#EEEEEE" stroke-width="0.9"/>
<line x1="439.70" y1="524.3" x2="439.70" y2="657.2" stroke="#EEEEEE" stroke-width="1.1"/>
<line x1="496.20" y1="524.3" x2="496.20" y2="657.2" stroke="#EEEEEE" stroke-width="1.1"/>
<line x1="552.70" y1="524.3" x2="552.70" y2="657.2" stroke="#EEEEEE" stroke-width="1.1"/>
<line x1="609.20" y1="524.3" x2="609.20" y2="657.2" stroke="#EEEEEE" stroke-width="1.1"/>
<line x1="389.0" y1="533.60" x2="646.5" y2="533.60" stroke="#EEEEEE" stroke-width="1.1"/>
<line x1="389.0" y1="549.91" x2="646.5" y2="549.91" stroke="#EEEEEE" stroke-width="1.1"/>
<line x1="389.0" y1="566.22" x2="646.5" y2="566.22" stroke="#EEEEEE" stroke-width="1.1"/>
<line x1="389.0" y1="582.53" x2="646.5" y2="582.53" stroke="#EEEEEE" stroke-width="1.1"/>
<line x1="389.0" y1="598.84" x2="646.5" y2="598.84" stroke="#EEEEEE" stroke-width="1.1"/>
<line x1="389.0" y1="615.15" x2="646.5" y2="615.15" stroke="#EEEEEE" stroke-width="1.1"/>
<line x1="389.0" y1="631.46" x2="646.5" y2="631.46" stroke="#EEEEEE" stroke-width="1.1"/>
<line x1="389.0" y1="647.77" x2="646.5" y2="647.77" stroke="#EEEEEE" stroke-width="1.1"/>
<line x1="496.20" y1="657.2" x2="496.20" y2="524.3" stroke="#4D4D4D" stroke-width="1.1" stroke-dasharray="3.15 3.15" stroke-dashoffset="0.65"/>
<path d="M498.70 530.70L501.60 533.60L498.70 536.50L495.80 533.60Z" fill="none" stroke="#B0B0B0" stroke-width="1.15" stroke-linejoin="miter"/>
<path d="M477.20 547.01L480.10 549.91L477.20 552.81L474.30 549.91Z" fill="none" stroke="#B0B0B0" stroke-width="1.15" stroke-linejoin="miter"/>
<path d="M405.30 563.32L408.20 566.22L405.30 569.12L402.40 566.22Z" fill="none" stroke="#B0B0B0" stroke-width="1.15" stroke-linejoin="miter"/>
<path d="M399.90 579.63L402.80 582.53L399.90 585.43L397.00 582.53Z" fill="none" stroke="#B0B0B0" stroke-width="1.15" stroke-linejoin="miter"/>
<path d="M407.00 595.94L409.90 598.84L407.00 601.74L404.10 598.84Z" fill="none" stroke="#B0B0B0" stroke-width="1.15" stroke-linejoin="miter"/>
<path d="M424.50 612.25L427.40 615.15L424.50 618.05L421.60 615.15Z" fill="none" stroke="#B0B0B0" stroke-width="1.15" stroke-linejoin="miter"/>
<path d="M524.70 628.56L527.60 631.46L524.70 634.36L521.80 631.46Z" fill="none" stroke="#B0B0B0" stroke-width="1.15" stroke-linejoin="miter"/>
<path d="M409.30 644.87L412.20 647.77L409.30 650.67L406.40 647.77Z" fill="none" stroke="#B0B0B0" stroke-width="1.15" stroke-linejoin="miter"/>
<path d="M523.30 530.70L526.20 533.60L523.30 536.50L520.40 533.60Z" fill="none" stroke="#FF0000" stroke-width="1.15" stroke-linejoin="miter"/>
<path d="M502.40 547.01L505.30 549.91L502.40 552.81L499.50 549.91Z" fill="none" stroke="#FF0000" stroke-width="1.15" stroke-linejoin="miter"/>
<path d="M407.00 563.32L409.90 566.22L407.00 569.12L404.10 566.22Z" fill="none" stroke="#FF0000" stroke-width="1.15" stroke-linejoin="miter"/>
<path d="M404.50 579.63L407.40 582.53L404.50 585.43L401.60 582.53Z" fill="none" stroke="#FF0000" stroke-width="1.15" stroke-linejoin="miter"/>
<path d="M415.10 595.94L418.00 598.84L415.10 601.74L412.20 598.84Z" fill="none" stroke="#FF0000" stroke-width="1.15" stroke-linejoin="miter"/>
<path d="M434.40 612.25L437.30 615.15L434.40 618.05L431.50 615.15Z" fill="none" stroke="#FF0000" stroke-width="1.15" stroke-linejoin="miter"/>
<path d="M518.70 628.56L521.60 631.46L518.70 634.36L515.80 631.46Z" fill="none" stroke="#FF0000" stroke-width="1.15" stroke-linejoin="miter"/>
<path d="M414.30 644.87L417.20 647.77L414.30 650.67L411.40 647.77Z" fill="none" stroke="#FF0000" stroke-width="1.15" stroke-linejoin="miter"/>
<rect x="389.0" y="524.3" width="257.5" height="132.9000000000001" fill="none" stroke="#333333" stroke-width="1.1"/>
<line x1="118.4" y1="533.60" x2="123" y2="533.60" stroke="#333333" stroke-width="1.35"/>
<text x="115.60" y="537.70" font-size="11.76" text-anchor="end" font-weight="normal" fill="#4D4D4D">Black</text>
<line x1="118.4" y1="549.91" x2="123" y2="549.91" stroke="#333333" stroke-width="1.35"/>
<text x="115.60" y="554.01" font-size="11.76" text-anchor="end" font-weight="normal" fill="#4D4D4D">Native American</text>
<line x1="118.4" y1="566.22" x2="123" y2="566.22" stroke="#333333" stroke-width="1.35"/>
<text x="115.60" y="570.32" font-size="11.76" text-anchor="end" font-weight="normal" fill="#4D4D4D">Asian</text>
<line x1="118.4" y1="582.53" x2="123" y2="582.53" stroke="#333333" stroke-width="1.35"/>
<text x="115.60" y="586.63" font-size="11.76" text-anchor="end" font-weight="normal" fill="#4D4D4D">Pacific Islander</text>
<line x1="118.4" y1="598.84" x2="123" y2="598.84" stroke="#333333" stroke-width="1.35"/>
<text x="115.60" y="602.94" font-size="11.76" text-anchor="end" font-weight="normal" fill="#4D4D4D">Other</text>
<line x1="118.4" y1="615.15" x2="123" y2="615.15" stroke="#333333" stroke-width="1.35"/>
<text x="115.60" y="619.25" font-size="11.76" text-anchor="end" font-weight="normal" fill="#4D4D4D">Two or More</text>
<line x1="118.4" y1="631.46" x2="123" y2="631.46" stroke="#333333" stroke-width="1.35"/>
<text x="115.60" y="635.56" font-size="11.76" text-anchor="end" font-weight="normal" fill="#4D4D4D">White</text>
<line x1="118.4" y1="647.77" x2="123" y2="647.77" stroke="#333333" stroke-width="1.35"/>
<text x="115.60" y="651.87" font-size="11.76" text-anchor="end" font-weight="normal" fill="#4D4D4D">Hispanic/Latino</text>
<line x1="173.70" y1="657.2" x2="173.70" y2="661.60" stroke="#333333" stroke-width="1.35"/>
<text x="173.70" y="673.70" font-size="11.76" text-anchor="middle" font-weight="normal" fill="#4D4D4D">-50</text>
<line x1="230.20" y1="657.2" x2="230.20" y2="661.60" stroke="#333333" stroke-width="1.35"/>
<text x="230.20" y="673.70" font-size="11.76" text-anchor="middle" font-weight="normal" fill="#4D4D4D">0</text>
<line x1="286.70" y1="657.2" x2="286.70" y2="661.60" stroke="#333333" stroke-width="1.35"/>
<text x="286.70" y="673.70" font-size="11.76" text-anchor="middle" font-weight="normal" fill="#4D4D4D">50</text>
<line x1="343.20" y1="657.2" x2="343.20" y2="661.60" stroke="#333333" stroke-width="1.35"/>
<text x="343.20" y="673.70" font-size="11.76" text-anchor="middle" font-weight="normal" fill="#4D4D4D">100</text>
<line x1="439.70" y1="657.2" x2="439.70" y2="661.60" stroke="#333333" stroke-width="1.35"/>
<text x="439.70" y="673.70" font-size="11.76" text-anchor="middle" font-weight="normal" fill="#4D4D4D">-50</text>
<line x1="496.20" y1="657.2" x2="496.20" y2="661.60" stroke="#333333" stroke-width="1.35"/>
<text x="496.20" y="673.70" font-size="11.76" text-anchor="middle" font-weight="normal" fill="#4D4D4D">0</text>
<line x1="552.70" y1="657.2" x2="552.70" y2="661.60" stroke="#333333" stroke-width="1.35"/>
<text x="552.70" y="673.70" font-size="11.76" text-anchor="middle" font-weight="normal" fill="#4D4D4D">50</text>
<line x1="609.20" y1="657.2" x2="609.20" y2="661.60" stroke="#333333" stroke-width="1.35"/>
<text x="609.20" y="673.70" font-size="11.76" text-anchor="middle" font-weight="normal" fill="#4D4D4D">100</text>
<text x="384.40" y="694.40" font-size="14.8" text-anchor="middle" font-weight="normal" fill="#000">% Difference vs. National Smoke Damages per Capita</text>
<text x="18.20" y="519.80" font-size="14.8" text-anchor="middle" font-weight="normal" fill="#000" transform="rotate(-90 18.20 519.80)">Race/Ethnicity Subpopulation</text>
<path d="M241.60 715.10L244.50 718.00L241.60 720.90L238.70 718.00Z" fill="none" stroke="#B0B0B0" stroke-width="1.15" stroke-linejoin="miter"/>
<text x="262.00" y="722.40" font-size="11.76" text-anchor="start" font-weight="normal" fill="#000">Base Case</text>
<path d="M339.80 715.10L342.70 718.00L339.80 720.90L336.90 718.00Z" fill="none" stroke="#FF0000" stroke-width="1.15" stroke-linejoin="miter"/>
<text x="360.00" y="722.40" font-size="11.76" text-anchor="start" font-weight="normal" fill="#000">Alternative Approach</text>
</svg>
</body></html>
